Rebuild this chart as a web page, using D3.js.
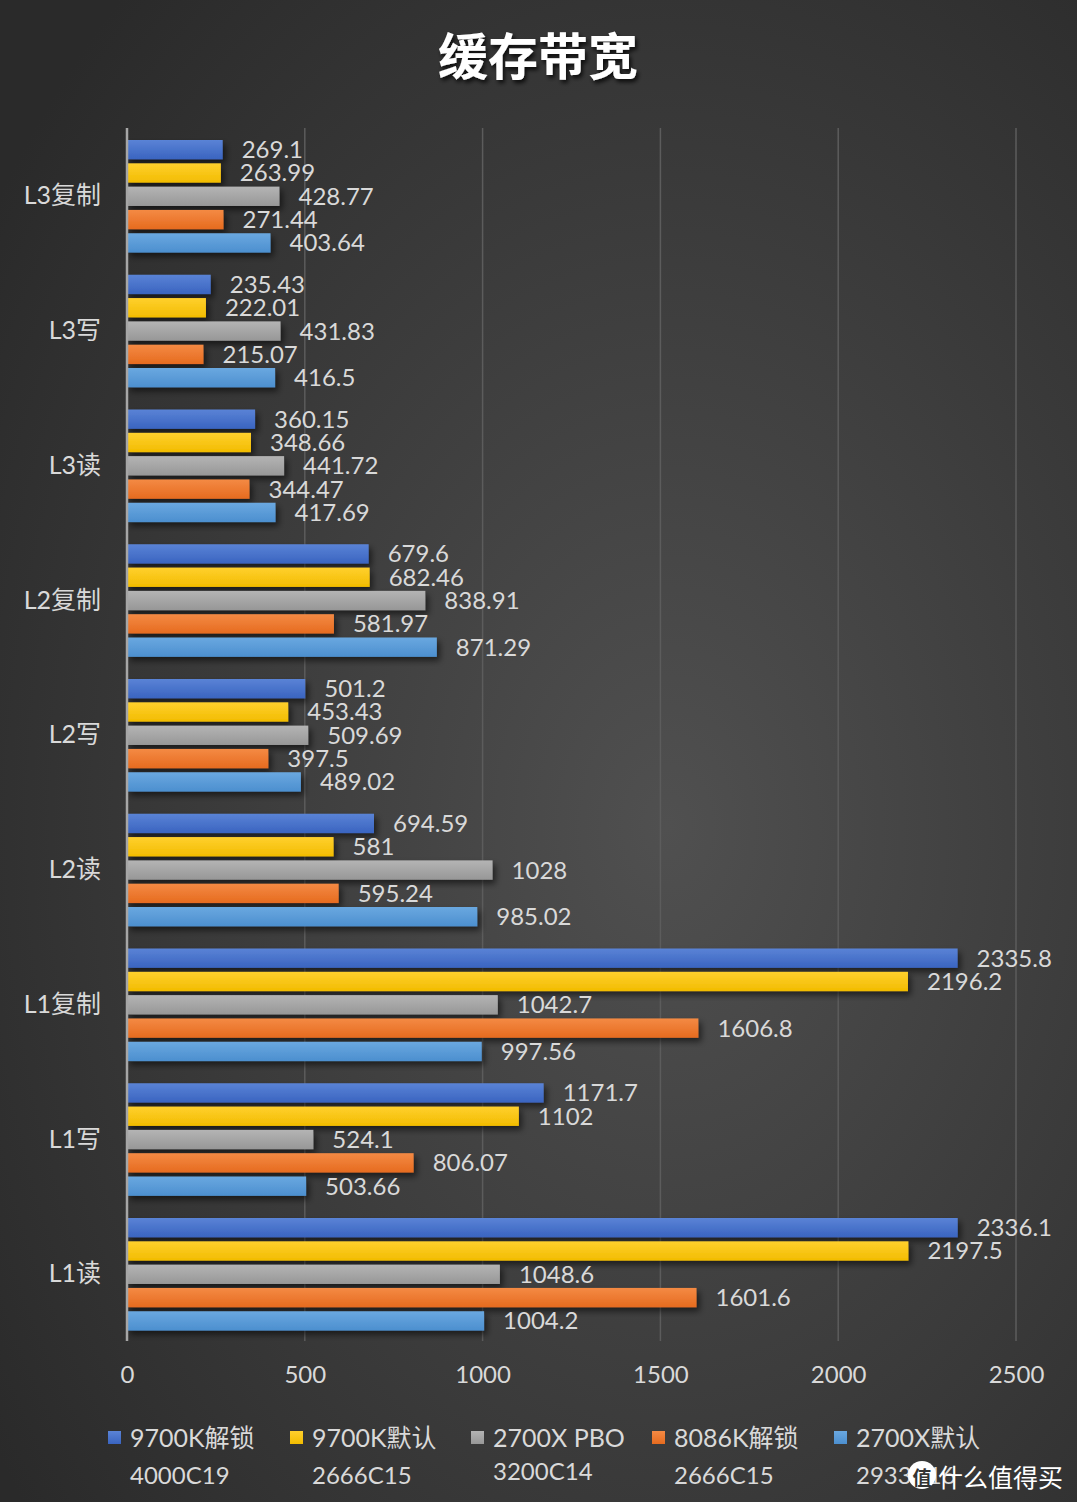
<!DOCTYPE html>
<html><head><meta charset="utf-8">
<script src="https://cdn.jsdelivr.net/npm/d3@7/dist/d3.min.js"></script>
<style>html,body{margin:0;padding:0;background:#333;}svg{display:block;}</style>
</head><body>
<script>
const categories = ["L3复制","L3写","L3读","L2复制","L2写","L2读","L1复制","L1写","L1读"];
const seriesNames = ["9700K解锁","9700K默认","2700X PBO","8086K解锁","2700X默认"];
const seriesSub = ["4000C19","2666C15","3200C14","2666C15","2933C16"];
const s9700kUnlock = [269.1,235.43,360.15,679.6,501.2,694.59,2335.8,1171.7,2336.1];
const s9700kDefault = [263.99,222.01,348.66,682.46,453.43,581,2196.2,1102,2197.5];
const s2700xPbo = [428.77,431.83,441.72,838.91,509.69,1028,1042.7,524.1,1048.6];
const s8086kUnlock = [271.44,215.07,344.47,581.97,397.5,595.24,1606.8,806.07,1601.6];
const s2700xDefault = [403.64,416.5,417.69,871.29,489.02,985.02,997.56,503.66,1004.2];
const xTicks = [0,500,1000,1500,2000,2500];
const colors = [["#5a83d6","#3a64c0"],["#ffd02e","#f2bc00"],["#b4b4b4","#979797"],["#f48a44","#e66b1f"],["#6aa8e0","#4c8fcf"]];
const allSeries = [s9700kUnlock,s9700kDefault,s2700xPbo,s8086kUnlock,s2700xDefault];

const W=1077,H=1502;
const svg=d3.select("body").append("svg").attr("width",W).attr("height",H);
const defs=svg.append("defs");
const bg=defs.append("radialGradient").attr("id","bg").attr("cx","62%").attr("cy","55%").attr("r","75%");
bg.append("stop").attr("offset","0%").attr("stop-color","#505050");
bg.append("stop").attr("offset","100%").attr("stop-color","#2a2a2a");
colors.forEach((c,i)=>{
  const g=defs.append("linearGradient").attr("id","g"+i).attr("x1",0).attr("y1",0).attr("x2",0).attr("y2",1);
  g.append("stop").attr("offset","0%").attr("stop-color",c[0]);
  g.append("stop").attr("offset","100%").attr("stop-color",c[1]);
});
const sh=defs.append("filter").attr("id","sh").attr("x","-5%").attr("y","-30%").attr("width","120%").attr("height","180%");
sh.append("feDropShadow").attr("dx",3).attr("dy",4).attr("stdDeviation",3).attr("flood-color","#000").attr("flood-opacity",0.55);
const tsh=defs.append("filter").attr("id","tsh").attr("x","-10%").attr("y","-20%").attr("width","130%").attr("height","150%");
tsh.append("feDropShadow").attr("dx",2).attr("dy",3).attr("stdDeviation",2).attr("flood-color","#000").attr("flood-opacity",0.8);

svg.append("rect").attr("width",W).attr("height",H).attr("fill","url(#bg)");

const font="Lato, 'Noto Sans CJK SC', sans-serif";
const textCol="#d9d9d9";

const x=d3.scaleLinear().domain([0,2500]).range([127,1016]);
const y0=d3.scaleBand().domain(categories).range([128,1340.75]).padding(0);
const y1=d3.scaleBand().domain(d3.range(5)).range([12,12+112.6]).paddingInner(0.17).paddingOuter(0);

// grid
svg.append("g").selectAll("line").data(xTicks.slice(1)).join("line")
  .attr("x1",d=>x(d)).attr("x2",d=>x(d)).attr("y1",128).attr("y2",1341)
  .attr("stroke","#5c5c5c").attr("stroke-width",1.5);

// title
svg.append("text").attr("x",538).attr("y",75).attr("text-anchor","middle")
  .attr("font-family","'Noto Sans CJK SC', sans-serif").attr("font-weight",700).attr("font-size",50)
  .attr("fill","#fff").attr("filter","url(#tsh)").text("缓存带宽");

// bars
const groups=svg.append("g").selectAll("g").data(categories).join("g")
  .attr("transform",c=>`translate(0,${y0(c)})`);
groups.each(function(c,ci){
  const g=d3.select(this);
  const rows=allSeries.map((s,si)=>({si,v:s[ci]}));
  g.selectAll("rect").data(rows).join("rect")
    .attr("x",x(0)).attr("y",d=>y1(d.si)).attr("width",d=>x(d.v)-x(0)).attr("height",y1.bandwidth())
    .attr("fill",d=>`url(#g${d.si})`).attr("filter","url(#sh)");
  g.selectAll("text.v").data(rows).join("text").attr("class","v")
    .attr("x",d=>x(d.v)+19).attr("y",d=>y1(d.si)+y1.bandwidth()/2-1)
    .attr("dominant-baseline","central").attr("font-family",font).attr("font-size",24)
    .attr("fill",textCol).text(d=>d.v);
});

// category labels
svg.append("g").selectAll("text").data(categories).join("text")
  .attr("x",101).attr("y",c=>y0(c)+y0.bandwidth()/2-1).attr("text-anchor","end")
  .attr("dominant-baseline","central").attr("font-family",font).attr("font-size",25)
  .attr("fill",textCol).text(c=>c);

// axis line at 0
svg.append("line").attr("x1",x(0)).attr("x2",x(0)).attr("y1",128).attr("y2",1341)
  .attr("stroke","#a6a6a6").attr("stroke-width",2.5);

// x axis labels
const xa=svg.append("g").attr("transform","translate(0,1375)")
  .call(d3.axisBottom(x).tickValues(xTicks).tickFormat(d3.format("d")).tickSize(0).tickPadding(0));
xa.select(".domain").remove();
xa.selectAll("text").attr("font-family",font).attr("font-size",24).attr("fill",textCol)
  .attr("dy","0.35em").attr("y",0);

// legend
const legX=[108,290,471,652,834];
const leg=svg.append("g").selectAll("g").data(seriesNames).join("g")
  .attr("transform",(d,i)=>`translate(${legX[i]},0)`);
leg.append("rect").attr("x",0).attr("y",1431).attr("width",13).attr("height",13)
  .attr("fill",(d,i)=>`url(#g${i})`);
leg.append("text").attr("x",22).attr("y",1437).attr("dominant-baseline","central")
  .attr("font-family",font).attr("font-size",25).attr("fill",textCol).text(d=>d);
leg.append("text").attr("x",22).attr("y",(d,i)=>i===2?1470:1474).attr("dominant-baseline","central")
  .attr("font-family",font).attr("font-size",24).attr("fill",textCol).text((d,i)=>seriesSub[i]);

// watermark
const wm=svg.append("g");
wm.append("circle").attr("cx",922).attr("cy",1475).attr("r",14).attr("fill","#fff");
wm.append("text").attr("x",922).attr("y",1476).attr("text-anchor","middle").attr("dominant-baseline","central")
  .attr("font-family","'Noto Sans CJK SC', sans-serif").attr("font-weight",700).attr("font-size",19)
  .attr("fill","#333").text("值");
wm.append("text").attr("x",938).attr("y",1476).attr("dominant-baseline","central")
  .attr("font-family","'Noto Sans CJK SC', sans-serif").attr("font-weight",400).attr("font-size",25)
  .attr("fill","#fff").text("什么值得买");
</script>
</body></html>
